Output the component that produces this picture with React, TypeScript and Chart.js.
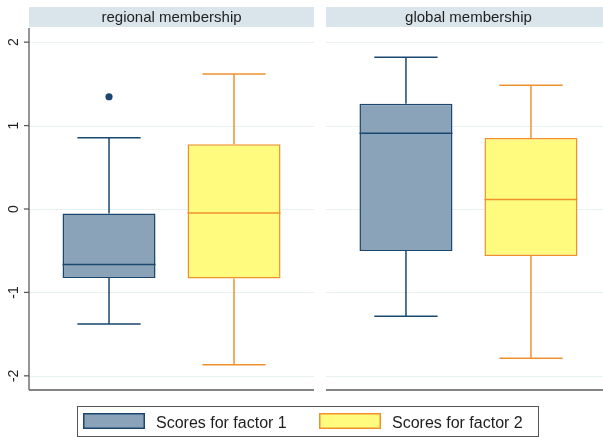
import React, { useEffect, useRef } from "react";
import { Chart, registerables } from "chart.js";

Chart.register(...registerables);

// ---------- data ----------
const PANELS = ["regional membership", "global membership"];
const SERIES = ["Scores for factor 1", "Scores for factor 2"];
const Y_TICKS = [-2, -1, 0, 1, 2];

// factor 1 box statistics, one value per panel
const F1_LOW = [-1.38, -1.285];
const F1_Q1 = [-0.826, -0.503];
const F1_MED = [-0.666, 0.907];
const F1_Q3 = [-0.055, 1.262];
const F1_HIGH = [0.855, 1.82];
const F1_OUTLIERS = [[1.346], []];

// factor 2 box statistics, one value per panel
const F2_LOW = [-1.868, -1.788];
const F2_Q1 = [-0.834, -0.563];
const F2_MED = [-0.048, 0.113];
const F2_Q3 = [0.775, 0.85];
const F2_HIGH = [1.62, 1.485];
const F2_OUTLIERS = [[], []];

// ---------- styles ----------
const FONT = "'Liberation Sans', Arial, Helvetica, sans-serif";
const FILLS = ["#8ba3b9", "#fefb7f"];
const LINES = ["#1a476f", "#f0922c"];
const STRIP = "#d9e5eb";
const GRID = "#e8f0f2";
const AXIS = "#5c5c5c";
const PANEL_HALF = 0.48;

export default function App() {
  const ref = useRef<HTMLCanvasElement | null>(null);

  useEffect(() => {
    if (!ref.current) return;
    const stats = [
      { low: F1_LOW, q1: F1_Q1, med: F1_MED, q3: F1_Q3, high: F1_HIGH, out: F1_OUTLIERS },
      { low: F2_LOW, q1: F2_Q1, med: F2_MED, q3: F2_Q3, high: F2_HIGH, out: F2_OUTLIERS },
    ];

    const boxPlugin = {
      id: "boxExtras",
      beforeDatasetsDraw(chart: any) {
        const { ctx, chartArea } = chart;
        const xs = chart.scales.x;
        const ys = chart.scales.y;
        ctx.save();
        // grid lines per panel
        ctx.strokeStyle = GRID;
        ctx.lineWidth = 1;
        PANELS.forEach((_, i) => {
          const x0 = xs.getPixelForValue(i - PANEL_HALF);
          const x1 = xs.getPixelForValue(i + PANEL_HALF);
          Y_TICKS.forEach((t) => {
            const y = Math.round(ys.getPixelForValue(t)) + 0.5;
            ctx.beginPath();
            ctx.moveTo(x0, y);
            ctx.lineTo(x1, y);
            ctx.stroke();
          });
        });
        // whiskers
        stats.forEach((s, d) => {
          const meta = chart.getDatasetMeta(d);
          meta.data.forEach((bar: any, i: number) => {
            const x = bar.x;
            const cap = bar.width * 0.34;
            ctx.strokeStyle = LINES[d];
            ctx.lineWidth = 1.5;
            const yq3 = ys.getPixelForValue(s.q3[i]);
            const yhi = ys.getPixelForValue(s.high[i]);
            const yq1 = ys.getPixelForValue(s.q1[i]);
            const ylo = ys.getPixelForValue(s.low[i]);
            ctx.beginPath();
            ctx.moveTo(x, yq3);
            ctx.lineTo(x, yhi);
            ctx.moveTo(x - cap, yhi);
            ctx.lineTo(x + cap, yhi);
            ctx.moveTo(x, yq1);
            ctx.lineTo(x, ylo);
            ctx.moveTo(x - cap, ylo);
            ctx.lineTo(x + cap, ylo);
            ctx.stroke();
          });
        });
        ctx.restore();
      },
      afterDatasetsDraw(chart: any) {
        const { ctx } = chart;
        const ys = chart.scales.y;
        ctx.save();
        stats.forEach((s, d) => {
          const meta = chart.getDatasetMeta(d);
          meta.data.forEach((bar: any, i: number) => {
            const half = bar.width / 2;
            const ym = ys.getPixelForValue(s.med[i]);
            ctx.strokeStyle = LINES[d];
            ctx.lineWidth = 1.5;
            ctx.beginPath();
            ctx.moveTo(bar.x - half, ym);
            ctx.lineTo(bar.x + half, ym);
            ctx.stroke();
            ctx.fillStyle = LINES[d];
            s.out[i].forEach((v: number) => {
              ctx.beginPath();
              ctx.arc(bar.x, ys.getPixelForValue(v), 3.6, 0, Math.PI * 2);
              ctx.fill();
            });
          });
        });
        ctx.restore();
      },
      afterDraw(chart: any) {
        const { ctx, chartArea } = chart;
        const xs = chart.scales.x;
        const ys = chart.scales.y;
        ctx.save();
        // strips and bottom axis lines
        PANELS.forEach((name, i) => {
          const x0 = xs.getPixelForValue(i - PANEL_HALF);
          const x1 = xs.getPixelForValue(i + PANEL_HALF);
          ctx.fillStyle = STRIP;
          ctx.fillRect(x0, chartArea.top - 21, x1 - x0, 20);
          ctx.fillStyle = "#1e1e1e";
          ctx.font = `15px ${FONT}`;
          ctx.textAlign = "center";
          ctx.textBaseline = "alphabetic";
          ctx.fillText(name, (x0 + x1) / 2, chartArea.top - 6);
          ctx.strokeStyle = AXIS;
          ctx.lineWidth = 1.3;
          ctx.beginPath();
          ctx.moveTo(x0, chartArea.bottom);
          ctx.lineTo(x1, chartArea.bottom);
          ctx.stroke();
        });
        // y axis
        ctx.strokeStyle = AXIS;
        ctx.lineWidth = 1.3;
        ctx.beginPath();
        ctx.moveTo(chartArea.left, chartArea.top);
        ctx.lineTo(chartArea.left, chartArea.bottom);
        ctx.stroke();
        ctx.font = `14px ${FONT}`;
        ctx.fillStyle = "#1e1e1e";
        Y_TICKS.forEach((t) => {
          const y = ys.getPixelForValue(t);
          ctx.beginPath();
          ctx.moveTo(chartArea.left - 5, y);
          ctx.lineTo(chartArea.left, y);
          ctx.stroke();
          ctx.save();
          ctx.translate(chartArea.left - 15, y);
          ctx.rotate(-Math.PI / 2);
          ctx.textAlign = "center";
          ctx.textBaseline = "middle";
          ctx.fillText(String(t), 0, 0);
          ctx.restore();
        });
        // legend
        const lx = 77, ly = chartArea.bottom + 16, lw = 461, lh = 30;
        ctx.strokeStyle = "#555";
        ctx.lineWidth = 1;
        ctx.strokeRect(lx + 0.5, ly + 0.5, lw, lh);
        const itemX = [83, 319];
        chart.data.datasets.forEach((ds: any, d: number) => {
          const sx = itemX[d];
          ctx.fillStyle = FILLS[d];
          ctx.fillRect(sx, ly + 7, 62, 16);
          ctx.strokeStyle = LINES[d];
          ctx.lineWidth = 1.5;
          ctx.strokeRect(sx + 0.75, ly + 7.75, 60.5, 14.5);
          ctx.fillStyle = "#1e1e1e";
          ctx.font = `16px ${FONT}`;
          ctx.textAlign = "left";
          ctx.textBaseline = "alphabetic";
          ctx.fillText(ds.label, sx + 73, ly + 22);
        });
        ctx.restore();
      },
    };

    const chart = new Chart(ref.current, {
      type: "bar",
      data: {
        datasets: stats.map((s, d) => ({
          label: SERIES[d],
          data: PANELS.map((_, i) => ({ x: i, y: [s.q1[i], s.q3[i]] })),
          backgroundColor: FILLS[d],
          borderColor: LINES[d],
          borderWidth: 1.5,
          borderSkipped: false,
          categoryPercentage: 0.842,
          barPercentage: 0.744,
        })),
      },
      options: {
        animation: false,
        responsive: false,
        maintainAspectRatio: false,
        events: [],
        layout: { padding: { left: 29, top: 28, right: 1, bottom: 47 } },
        plugins: { legend: { display: false }, tooltip: { enabled: false }, title: { display: false } },
        scales: {
          x: {
            type: "linear",
            display: false,
            offset: false,
            min: -PANEL_HALF,
            max: PANELS.length - 1 + PANEL_HALF,
            afterBuildTicks: (scale: any) => {
              scale.ticks = PANELS.map((_, i) => ({ value: i }));
            },
          },
          y: {
            type: "linear",
            display: false,
            min: -2.17,
            max: 2.17,
            afterBuildTicks: (scale: any) => {
              scale.ticks = Y_TICKS.map((v) => ({ value: v }));
            },
          },
        },
      } as any,
      plugins: [boxPlugin],
    });
    return () => chart.destroy();
  }, []);

  return (
    <div style={{ position: "fixed", left: 0, top: 0, width: 603, height: 437, overflow: "hidden", background: "#fff" }}>
      <canvas ref={ref} width={612} height={437} style={{ display: "block", width: 612, height: 437 }} />
    </div>
  );
}
